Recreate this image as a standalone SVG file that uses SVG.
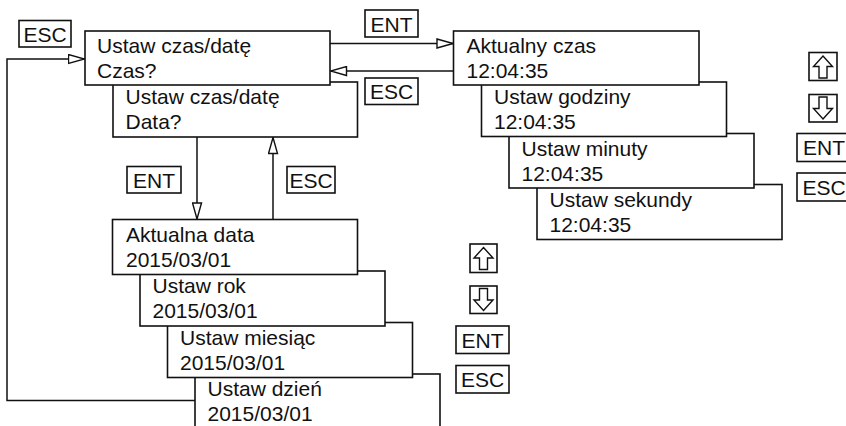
<svg xmlns="http://www.w3.org/2000/svg" width="846" height="426" viewBox="0 0 846 426">
<style>
  .box{fill:#fff;stroke:#111;stroke-width:1.6}
  .t{font-family:"Liberation Sans",Arial,sans-serif;font-size:21px;fill:#111}
  .k{font-family:"Liberation Sans",Arial,sans-serif;font-size:21px;fill:#111;text-anchor:middle}
  .ln{fill:none;stroke:#111;stroke-width:1.5}
  .ic{fill:#fff;stroke:#111;stroke-width:1.4;stroke-linejoin:miter}
</style>
<defs>
  <marker id="ah" markerUnits="userSpaceOnUse" viewBox="-1 -1 18 11" markerWidth="18" markerHeight="11" refX="16" refY="4.5" orient="auto">
    <path d="M0,0 L16,4.5 L0,9 Z" fill="#fff" stroke="#111" stroke-width="1.4"/>
  </marker>
</defs>
<rect width="846" height="426" fill="#fff"/>

<g id="connectors">
  <path class="ln" d="M195,400.5 H7 V59 H84.5" marker-end="url(#ah)"/>
  <path class="ln" d="M330,43.5 H453" marker-end="url(#ah)"/>
  <path class="ln" d="M453,71 H330.5" marker-end="url(#ah)"/>
  <path class="ln" d="M197,137 V219" marker-end="url(#ah)"/>
  <path class="ln" d="M273,219.5 V137.5" marker-end="url(#ah)"/>
</g>

<!-- right stack, drawn back to front -->
<g id="n-sekundy"><rect class="box" x="537" y="184.5" width="245" height="55"/>
  <text class="t" x="549.5" y="206.5">Ustaw sekundy</text><text class="t" x="549.5" y="231.5">12:04:35</text></g>
<g id="n-minuty"><rect class="box" x="509" y="133.5" width="245" height="54.5"/>
  <text class="t" x="521.5" y="155.5">Ustaw minuty</text><text class="t" x="521.5" y="180.5">12:04:35</text></g>
<g id="n-godziny"><rect class="box" x="481.5" y="82" width="245" height="54.5"/>
  <text class="t" x="494" y="104">Ustaw godziny</text><text class="t" x="494" y="129">12:04:35</text></g>
<g id="n-aktualny-czas"><rect class="box" x="453.5" y="31" width="245.5" height="54"/>
  <text class="t" x="466.5" y="53">Aktualny czas</text><text class="t" x="466.5" y="78">12:04:35</text></g>

<!-- top-left menu -->
<g id="n-data"><rect class="box" x="113" y="82" width="244.5" height="55"/>
  <text class="t" x="125.5" y="104">Ustaw czas/datę</text><text class="t" x="125.5" y="129">Data?</text></g>
<g id="n-czas"><rect class="box" x="85" y="31" width="245" height="54"/>
  <text class="t" x="97" y="53">Ustaw czas/datę</text><text class="t" x="97" y="78">Czas?</text></g>

<!-- bottom stack -->
<g id="n-dzien"><rect class="box" x="195" y="374" width="245" height="60"/>
  <text class="t" x="207.5" y="396">Ustaw dzień</text><text class="t" x="207.5" y="421">2015/03/01</text></g>
<g id="n-miesiac"><rect class="box" x="167.5" y="322.5" width="245" height="55"/>
  <text class="t" x="180" y="344.5">Ustaw miesiąc</text><text class="t" x="180" y="369.5">2015/03/01</text></g>
<g id="n-rok"><rect class="box" x="140" y="271" width="245" height="55"/>
  <text class="t" x="152.5" y="293">Ustaw rok</text><text class="t" x="152.5" y="318">2015/03/01</text></g>
<g id="n-aktualna-data"><rect class="box" x="112.5" y="219.5" width="245" height="55"/>
  <text class="t" x="126" y="241.5">Aktualna data</text><text class="t" x="126" y="266.5">2015/03/01</text></g>

<!-- key labels -->
<g id="k-esc-loop"><rect class="box" x="19" y="20.5" width="52" height="26.5"/><text class="k" x="45" y="41.5">ESC</text></g>
<g id="k-ent-right"><rect class="box" x="365" y="10" width="53" height="27"/><text class="k" x="391.5" y="31.5">ENT</text></g>
<g id="k-esc-left"><rect class="box" x="365" y="78" width="53" height="26.5"/><text class="k" x="391.5" y="99">ESC</text></g>
<g id="k-ent-down"><rect class="box" x="127" y="166.5" width="54" height="26.5"/><text class="k" x="154" y="187.5">ENT</text></g>
<g id="k-esc-up"><rect class="box" x="287" y="166.5" width="48" height="26.5"/><text class="k" x="311" y="187.5">ESC</text></g>

<!-- bottom legend -->
<g id="legend-bottom">
  <rect class="box" x="470" y="244" width="27" height="28.5"/>
  <path class="ic" d="M483.5,247.5 L493,258 H487.5 V269.5 H479.5 V258 H474 Z"/>
  <rect class="box" x="470" y="286" width="27" height="27.5"/>
  <path class="ic" d="M483.5,310.5 L493,300 H487.5 V288.5 H479.5 V300 H474 Z"/>
  <rect class="box" x="456" y="326" width="53" height="27.5"/><text class="k" x="482.5" y="347.5">ENT</text>
  <rect class="box" x="456" y="365.5" width="53" height="27.5"/><text class="k" x="482.5" y="387">ESC</text>
</g>

<!-- right legend -->
<g id="legend-right">
  <rect class="box" x="809" y="52.5" width="28" height="28"/>
  <path class="ic" d="M823,56 L832.5,66.5 H827 V78 H819 V66.5 H813.5 Z"/>
  <rect class="box" x="809" y="94.5" width="28" height="27.5"/>
  <path class="ic" d="M823,119 L832.5,108.5 H827 V97 H819 V108.5 H813.5 Z"/>
  <rect class="box" x="797" y="133.5" width="56" height="28"/><text class="k" x="824" y="155">ENT</text>
  <rect class="box" x="797" y="173" width="56" height="28"/><text class="k" x="824" y="194.5">ESC</text>
</g>
</svg>
